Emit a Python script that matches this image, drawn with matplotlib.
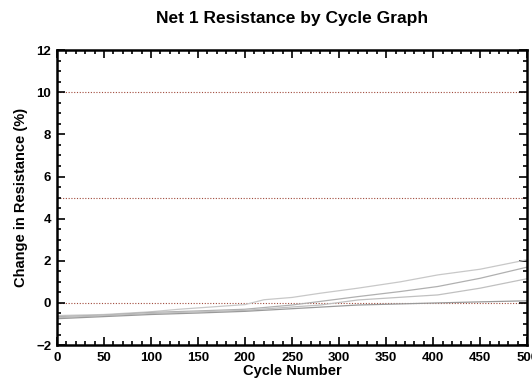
import matplotlib.pyplot as plt
from matplotlib.ticker import MultipleLocator

plt.rcParams['font.family'] = ['Liberation Sans', 'DejaVu Sans']
plt.rcParams['font.weight'] = 'bold'

cycles_a = [0, 50, 100, 130, 200, 220, 250, 280, 320, 365, 405, 450, 500]
net_a = [-0.6, -0.55, -0.42, -0.3, -0.08, 0.15, 0.26, 0.46, 0.70, 1.0, 1.33, 1.6, 2.05]

cycles_b = [0, 50, 100, 150, 200, 250, 320, 365, 405, 450, 500]
net_b = [-0.65, -0.58, -0.45, -0.38, -0.3, -0.1, 0.30, 0.54, 0.78, 1.17, 1.7]

cycles_c = [0, 50, 100, 150, 200, 280, 320, 405, 450, 500]
net_c = [-0.7, -0.6, -0.5, -0.42, -0.35, -0.1, 0.14, 0.38, 0.7, 1.15]

cycles_d = [0, 50, 100, 150, 200, 280, 320, 405, 450, 500]
net_d = [-0.75, -0.65, -0.55, -0.48, -0.4, -0.2, -0.1, 0.0, 0.05, 0.1]

limits = [10, 5, 0]

fig = plt.figure(figsize=(5.32, 3.80), dpi=100)
ax = fig.add_axes([0.107, 0.092, 0.884, 0.776])

for lim in limits:
    ax.axhline(lim, color='#a04a3c', linestyle=(0, (1, 1.5)), linewidth=0.8, zorder=1)

ax.plot(cycles_a, net_a, color='#c8c8c8', linewidth=0.9)
ax.plot(cycles_b, net_b, color='#b0b0b0', linewidth=0.9)
ax.plot(cycles_c, net_c, color='#c0c0c0', linewidth=0.9)
ax.plot(cycles_d, net_d, color='#9a9a9a', linewidth=0.9)

ax.set_xlim(0, 500)
ax.set_ylim(-2, 12)
ax.xaxis.set_major_locator(MultipleLocator(50))
ax.xaxis.set_minor_locator(MultipleLocator(10))
ax.yaxis.set_major_locator(MultipleLocator(2))
ax.yaxis.set_minor_locator(MultipleLocator(0.5))
ax.tick_params(which='both', direction='in', top=True, right=True, width=1.2,
               labelsize=9.5)
ax.tick_params(axis='x', pad=5)
ax.tick_params(axis='y', pad=4)
ax.tick_params(which='major', length=6)
ax.tick_params(which='minor', length=3)
for s in ax.spines.values():
    s.set_linewidth(1.8)

ax.set_xlabel('Cycle Number', fontsize=10.5, fontweight='bold', labelpad=0)
ax.set_ylabel('Change in Resistance (%)', fontsize=10.5, fontweight='bold', labelpad=6)
fig.suptitle('Net 1 Resistance by Cycle Graph', x=0.549, y=0.972, fontsize=12.5,
             fontweight='bold')

fig.savefig('out.png', dpi=100)
